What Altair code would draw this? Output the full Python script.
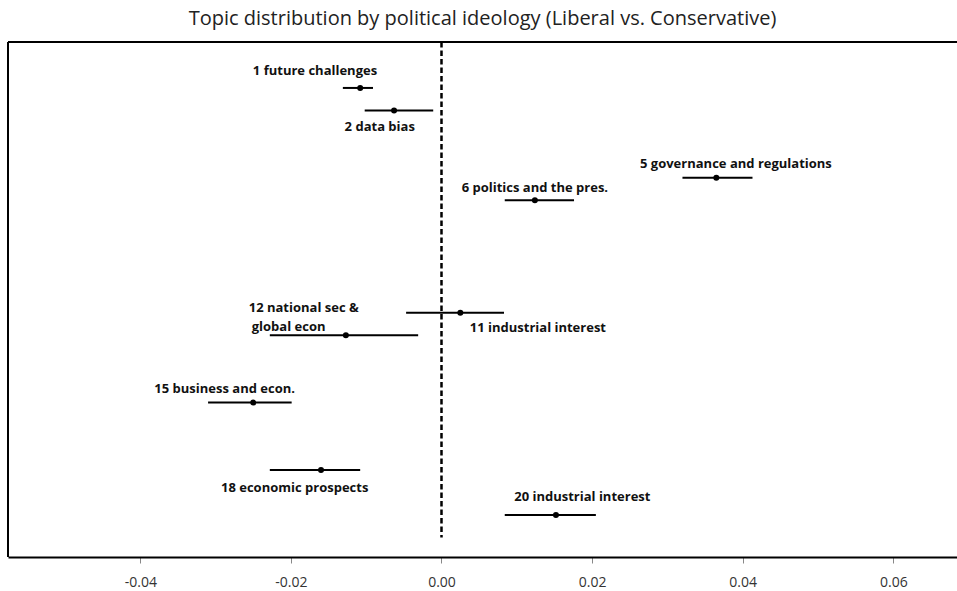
import altair as alt
import pandas as pd

# Topic effects (Liberal vs. Conservative) with confidence intervals
topics = [1, 2, 5, 6, 11, 12, 15, 18, 20]
estimates = [-0.0108, -0.0063, 0.0365, 0.0124, 0.0025, -0.0127, -0.0250, -0.0160, 0.0152]
lower = [-0.0131, -0.0102, 0.0320, 0.0084, -0.0047, -0.0228, -0.0310, -0.0228, 0.0084]
upper = [-0.0091, -0.0011, 0.0413, 0.0176, 0.0083, -0.0031, -0.0199, -0.0108, 0.0205]

# Centred topic labels and where they sit (axis units)
labels = [
    "1 future challenges",
    "2 data bias",
    "5 governance and regulations",
    "6 politics and the pres.",
    "11 industrial interest",
    "15 business and econ.",
    "18 economic prospects",
    "20 industrial interest",
]
label_x = [-0.0168, -0.0082, 0.0391, 0.0124, 0.0128, -0.0288, -0.0195, 0.0187]
label_y = [0.24, 2.73, 4.38, 5.44, 11.67, 14.38, 18.78, 19.22]

# Two-line, left-aligned label for topic 12
label12_lines = ["12 national sec &", "global econ"]
label12_x = [-0.0256, -0.0252]
label12_y = [10.78, 11.62]

x_ticks = [-0.04, -0.02, 0.0, 0.02, 0.04, 0.06]
x_domain = [-0.05757, 0.06846]
y_domain = [-1.044, 21.87]

est_df = pd.DataFrame({"topic": topics, "est": estimates, "lo": lower, "hi": upper})
lab_df = pd.DataFrame({"label": labels, "lx": label_x, "ly": label_y})
lab12_df = pd.DataFrame({"label": label12_lines, "lx": label12_x, "ly": label12_y})

W, H = 949, 515
FONT = "Open Sans"

xs = alt.Scale(domain=x_domain, nice=False, zero=False)
ys = alt.Scale(domain=y_domain, reverse=True, nice=False, zero=False)

x_axis = alt.Axis(
    values=x_ticks, title=None, grid=False,
    labelExpr="replace(format(datum.value, '.2f'), '\u2212', '-')",
    domain=True, domainColor="#000000", domainWidth=2,
    ticks=True, tickColor="#888888", tickSize=6, tickWidth=1,
    labelFont=FONT, labelFontSize=14, labelColor="#333333", labelPadding=12,
)

bars = alt.Chart(est_df).mark_rule(color="black", strokeWidth=2).encode(
    x=alt.X("lo:Q", scale=xs, axis=x_axis),
    x2="hi:Q",
    y=alt.Y("topic:Q", scale=ys, axis=None),
)

points = alt.Chart(est_df).mark_circle(color="black", opacity=1, size=36).encode(
    x=alt.X("est:Q", scale=xs, axis=x_axis),
    y=alt.Y("topic:Q", scale=ys, axis=None),
)

centered = alt.Chart(lab_df).mark_text(
    font=FONT, fontSize=13, fontWeight="bold", color="#111111",
    align="center", baseline="middle",
).encode(
    x=alt.X("lx:Q", scale=xs, axis=x_axis),
    y=alt.Y("ly:Q", scale=ys, axis=None),
    text="label:N",
)

left = alt.Chart(lab12_df).mark_text(
    font=FONT, fontSize=13, fontWeight="bold", color="#111111",
    align="left", baseline="middle",
).encode(
    x=alt.X("lx:Q", scale=xs, axis=x_axis),
    y=alt.Y("ly:Q", scale=ys, axis=None),
    text="label:N",
)

# Reference line at zero
ref = alt.Chart(pd.DataFrame({"x": [0.0], "y0": [y_domain[0]], "y1": [21.0]})).mark_rule(
    color="black", strokeWidth=2.5, strokeDash=[5.5, 3]
).encode(
    x=alt.X("x:Q", scale=xs, axis=x_axis),
    y=alt.Y("y0:Q", scale=ys, axis=None),
    y2="y1:Q",
)

# Top and left edges of the plot frame
top_edge = alt.Chart(pd.DataFrame({"x0": [x_domain[0]], "x1": [x_domain[1]], "y": [y_domain[0]]})).mark_rule(
    color="black", strokeWidth=2
).encode(
    x=alt.X("x0:Q", scale=xs, axis=x_axis),
    x2="x1:Q",
    y=alt.Y("y:Q", scale=ys, axis=None),
)
left_edge = alt.Chart(pd.DataFrame({"x": [x_domain[0]], "y0": [y_domain[0]], "y1": [y_domain[1]]})).mark_rule(
    color="black", strokeWidth=2
).encode(
    x=alt.X("x:Q", scale=xs, axis=x_axis),
    y=alt.Y("y0:Q", scale=ys, axis=None),
    y2="y1:Q",
)

chart = alt.layer(ref, bars, points, centered, left, top_edge, left_edge).properties(
    width=W,
    height=H,
    title=alt.TitleParams(
        "Topic distribution by political ideology (Liberal vs. Conservative)",
        font=FONT, fontSize=20, fontWeight="normal", color="#222222",
        anchor="middle", offset=12,
    ),
    padding={"left": 8, "top": 42, "right": 0, "bottom": 34},
    autosize=alt.AutoSizeParams(type="none"),
    background="white",
).configure_view(strokeWidth=0)

chart.save("out.html", embed_options={"renderer": "svg", "actions": False})
